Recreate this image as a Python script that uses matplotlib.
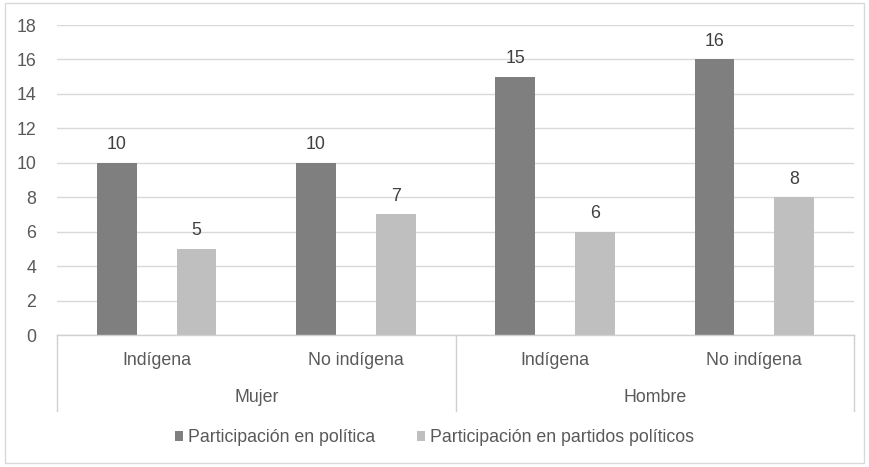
import matplotlib.pyplot as plt
from matplotlib.patches import Rectangle
import numpy as np

groups = ['Mujer', 'Hombre']
categories = ['Indígena', 'No indígena', 'Indígena', 'No indígena']
politica = [10, 10, 15, 16]
partidos = [5, 7, 6, 8]
series_names = ['Participación en política', 'Participación en partidos políticos']

dark = '#7f7f7f'
light = '#bfbfbf'
txt = '#595959'
fs = 12.8

plt.rcParams['font.family'] = ['Liberation Sans', 'DejaVu Sans']

fig = plt.figure(figsize=(8.69, 4.67), dpi=100)
ax = fig.add_axes([57 / 869, 1 - 335 / 467, (854 - 57) / 869, (335 - 25) / 467])

x = np.arange(len(categories))
w = 0.2
b1 = ax.bar(x + 0.3, politica, w, color=dark, label=series_names[0], zorder=3)
b2 = ax.bar(x + 0.7, partidos, w, color=light, label=series_names[1], zorder=3)

for bars, vals in ((b1, politica), (b2, partidos)):
    for rect, v in zip(bars, vals):
        ax.text(rect.get_x() + rect.get_width() / 2, v + 0.55, str(v),
                ha='center', va='bottom', fontsize=fs, color='#404040')

ax.set_xlim(0, len(categories))
ax.set_ylim(0, 18)
ax.set_yticks(range(0, 19, 2))
ax.tick_params(axis='y', length=0, labelsize=fs, labelcolor=txt, pad=15)
ax.set_xticks([])
ax.yaxis.grid(True, color='#d9d9d9', linewidth=1, zorder=0)
for s in ax.spines.values():
    s.set_visible(False)

# two-level category axis
axis_col = '#d0d0d0'
ax.plot([0, len(categories)], [0, 0], color=axis_col, lw=1, clip_on=False, zorder=4)
for xv in (0, 2, 4):
    ax.plot([xv, xv], [0, -4.4], color=axis_col, lw=1, clip_on=False)
for i, c in enumerate(categories):
    ax.text(i + 0.5, -1.5, c, ha='center', va='center', fontsize=fs, color=txt)
for j, g in enumerate(groups):
    ax.text(2 * j + 1, -3.65, g, ha='center', va='center', fontsize=fs, color=txt)

leg = fig.legend(handles=[b1, b2], loc='center', bbox_to_anchor=(0.5, 1 - 438 / 467),
                 ncol=2, frameon=False, fontsize=fs, handlelength=0.45, handleheight=0.45,
                 handletextpad=0.25, columnspacing=2.4)
for t in leg.get_texts():
    t.set_color(txt)

fig.add_artist(Rectangle((5 / 869, 1 - 463 / 467), 859 / 869, 460 / 467,
                         transform=fig.transFigure, fill=False, edgecolor='#d9d9d9', lw=1))

fig.savefig('out.png', dpi=100)
